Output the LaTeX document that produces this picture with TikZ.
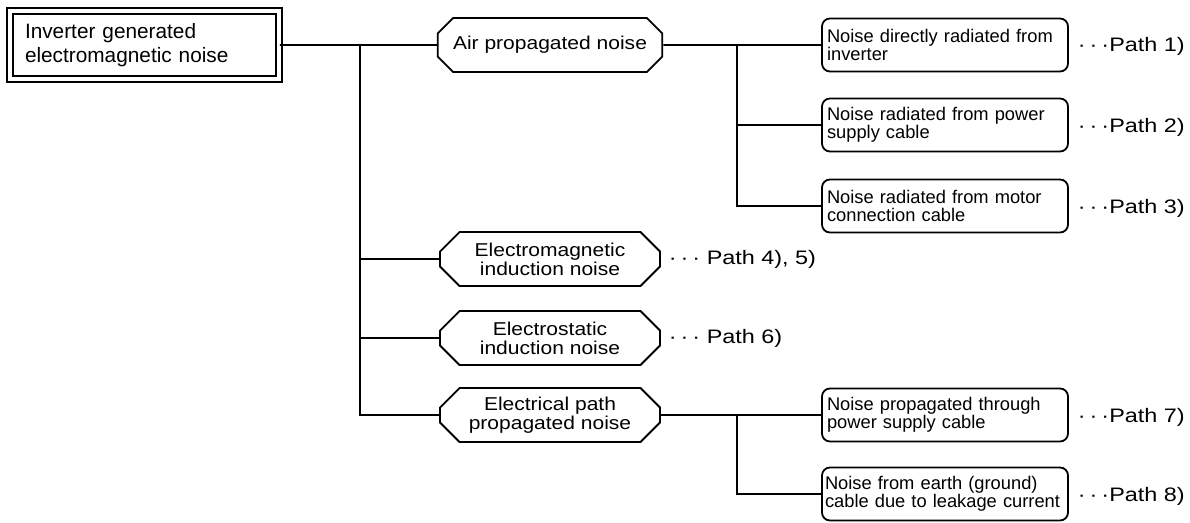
\documentclass[tikz,border=0pt]{standalone}
\usepackage{fontspec}
\setmainfont{Liberation Sans}
\newfontfamily\widesans[FakeStretch=1.13]{Liberation Sans}
\newfontfamily\tagsans[FakeStretch=1.2]{Liberation Sans}
\usetikzlibrary{shapes.misc,positioning}
\newcommand\tridots{·\kern4pt·\kern4pt·}

\begin{document}
\begin{tikzpicture}[
  x=1pt, y=-1pt,
  line width=1.8pt,
  src/.style={draw, double, double distance=4.2pt, minimum width=269pt,
              minimum height=68pt, text width=239pt, inner xsep=15pt,
              align=left, font=\fontsize{20.8}{24}\selectfont},
  kind/.style={draw, chamfered rectangle, chamfered rectangle angle=45,
               chamfered rectangle xsep=16pt, minimum width=220pt,
               minimum height=54pt, align=center,
               font=\widesans\fontsize{18.6}{19}\selectfont},
  leaf/.style={draw, rounded corners=8pt, minimum height=53pt,
               text width=240pt, inner xsep=3pt, align=left,
               font=\fontsize{18.3}{18}\selectfont},
  tag/.style={anchor=west, inner sep=0pt,
              font=\tagsans\fontsize{19.5}{19.5}\selectfont}
]
\useasboundingbox (0,0) rectangle (1190,522);

% source and noise kinds
\node[src] (inv) at (144.5,45) {Inverter generated\\electromagnetic noise};
\node[kind] (air) at (550,45) {Air propagated noise};
\node[kind] (emi) at (550,259) {Electromagnetic\\induction noise};
\node[kind] (esi) at (550,338) {Electrostatic\\induction noise};
\node[kind] (elp) at (550,415) {Electrical path\\propagated noise};

% paths
\node[leaf] (rad1) at (945,45) {\hspace{2pt}Noise directly radiated from\\\hspace{2pt}inverter};
\node[leaf] (rad2) at (945,125) {\hspace{2pt}Noise radiated from power\\\hspace{2pt}supply cable};
\node[leaf] (rad3) at (945,206) {\hspace{2pt}Noise radiated from motor\\\hspace{2pt}connection cable};
\node[leaf] (cnd1) at (945,415) {\hspace{2pt}Noise propagated through\\\hspace{2pt}power supply cable};
\node[leaf] (cnd2) at (945,494) {Noise from earth (ground)\\cable due to leakage current};

\node[tag] (p1) at (1077,46) {\tridots Path 1)};
\node[tag] (p2) at (1077,127) {\tridots Path 2)};
\node[tag] (p3) at (1077,208) {\tridots Path 3)};
\node[tag] (p45) at (668,259) {\tridots\ Path 4), 5)};
\node[tag] (p6) at (668,338) {\tridots\ Path 6)};
\node[tag] (p7) at (1077,417) {\tridots Path 7)};
\node[tag] (p8) at (1077,496) {\tridots Path 8)};

% connectors
\coordinate (ja) at (360,45);
\coordinate (jb) at (737,45);
\coordinate (jc) at (737,415);
\draw (inv) -- (air);
\draw (air) -- (rad1);
\draw (ja) |- (emi.west);
\draw (ja) |- (esi.west);
\draw (ja) |- (elp.west);
\draw (jb) |- (rad2.west);
\draw (jb) |- (rad3.west);
\draw (elp) -- (cnd1);
\draw (jc) |- (cnd2.west);
\end{tikzpicture}
\end{document}
